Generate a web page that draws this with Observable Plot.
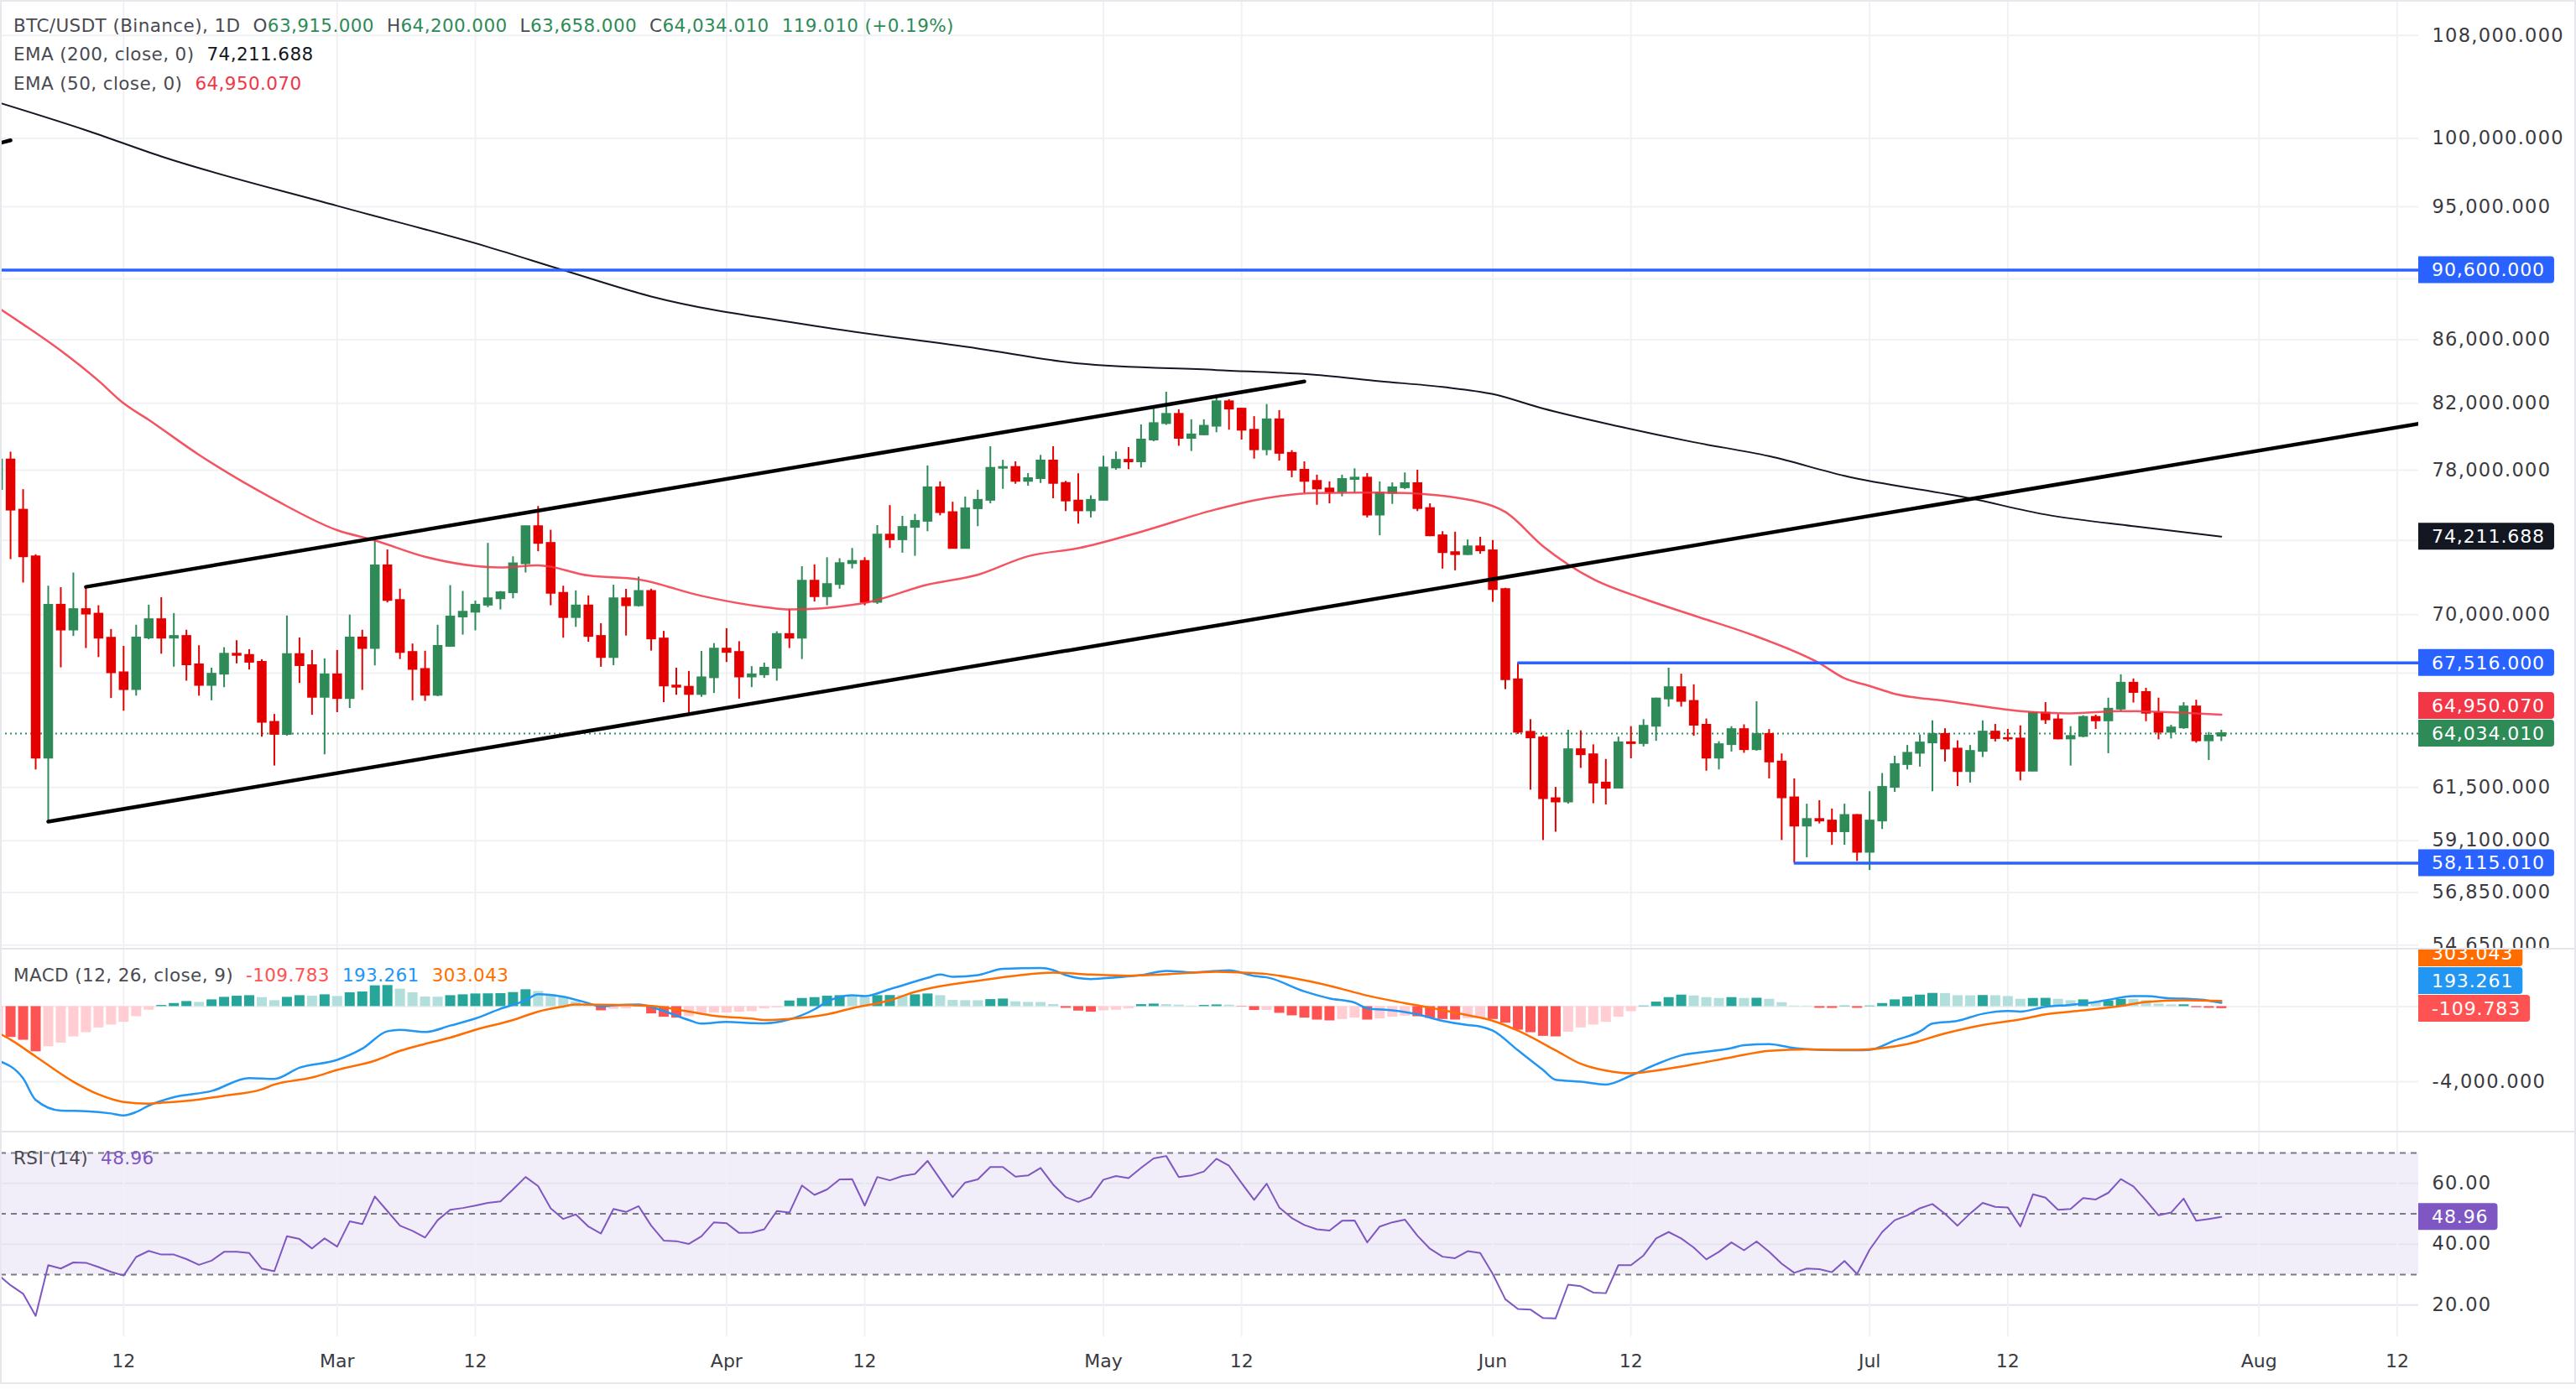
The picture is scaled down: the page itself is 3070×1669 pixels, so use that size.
<!DOCTYPE html>
<html>
<head>
<meta charset="utf-8">
<script src="https://cdn.jsdelivr.net/npm/d3@7"></script>
<script src="https://cdn.jsdelivr.net/npm/@observablehq/plot@0.6"></script>
<style>
  body { margin: 0; background: #fff; }
  #chart { position: relative; width: 3070px; height: 1669px; overflow: hidden; background: #fff;
           font-family: "DejaVu Sans", sans-serif; }
  .lg { position: absolute; left: 16px; height: 34px; line-height: 34px; font-size: 21.5px; color: #4a4a52;
        white-space: pre; letter-spacing: 0.4px; }
  .lg .gap { display: inline-block; width: 15px; }
  .sep { position: absolute; left: 0; width: 3070px; height: 2px; background: #e3e5ec; }
  .frame { position: absolute; left: 0; top: 0; width: 3066px; height: 1646px; border: 2px solid #e6e8ee; pointer-events: none; }
  g[aria-label="y-axis tick label"] text { letter-spacing: 1.3px; }
</style>
</head>
<body>
<div id="chart"></div>
<script>
// ---------- daily candles, BTC/USDT 1D, 2026-02-02 .. 2026-07-29 ----------
const firstCandle = "2026-02-02";
const firstOpen = 76880;
const close = [
  78600,75700,73100,62870,70500,69200,70270,70030,68780,67020,66180,68790,69740,68780,68870,67420,66390,66950,67960,67900,67550,64580,64000,67940,67380,65800,66920,
  65740,68790,68250,72610,70750,68050,67190,65900,68360,69880,70130,70500,70840,71160,72720,74770,73840,71130,69850,70460,68870,67790,70840,70470,71230,68740,66360,66300,65940,66770,68220,
  68050,66810,66920,67250,68970,68780,71780,70950,71600,72730,72850,70650,74300,74040,74730,75070,76980,75560,73560,75780,76260,78110,78160,77350,77510,78540,77230,76220,75660,76260,
  78130,78580,78490,79780,80770,81330,79880,80090,80610,82100,81650,80370,79200,81000,78990,78000,77350,76910,76730,77460,77540,75420,76660,76980,77220,75790,74260,73330,73220,73650,73430,
  71330,66670,64100,63830,60990,60840,63270,63030,61710,61470,63600,63560,64390,65720,66280,65600,64440,62870,63510,64230,63270,64000,62690,61030,59750,60050,59980,59500,60230,58590,
  59980,61510,62570,63100,63590,64000,63300,62240,63190,64110,63800,63780,62260,65020,64700,63780,63900,64820,64650,65220,66500,66040,65020,64100,64310,65330,63690,63915,64034.01
];
const high = [
  79100,79060,76870,73220,71510,71430,72220,71440,70470,69230,68360,69450,70500,70900,70060,69190,68390,67250,68290,68650,68190,67680,64960,69930,68790,68150,67720,
  68150,69980,69190,74070,73480,71350,68480,68110,69450,71540,71230,70720,73840,71230,73100,74800,75910,74570,71510,71260,70990,69530,71560,71340,72000,71350,69130,67250,67090,68100,68500,
  69270,68600,67330,67510,69110,70270,72560,72660,73050,73000,73560,73050,74830,75960,75350,75460,78250,77320,76150,76450,76840,79380,78580,78490,77800,78870,79380,77350,77790,76520,
  78820,79070,79330,80690,81700,82690,81610,81000,81000,82450,82230,81690,81190,81930,81560,79150,78490,77710,77320,77710,78080,77800,77320,77260,77840,78000,76060,74490,74460,74030,74180,
  74000,71400,67516,64710,63930,61510,64200,64170,63500,62810,63870,64370,64710,65760,67250,66950,66420,64740,63650,64370,64460,65580,64230,63070,61900,60740,60900,60520,60740,60270,
  61310,62150,62960,63470,63970,64650,64270,63690,63470,64650,64480,64240,64410,65080,65540,64960,64370,64900,64930,65760,66920,66710,66250,65760,64440,65540,65660,64090,64200
];
const low = [
  75800,72950,71680,62320,59950,67270,68870,68250,67790,65740,65120,65860,68700,67960,67300,66600,65860,65630,66280,67470,67160,63870,62500,63910,66490,64920,63030,
  65050,65250,66140,67370,70620,67690,65630,65600,65830,68330,68940,69160,70370,70250,70840,72220,73380,70470,68780,69340,68570,67300,67380,68890,70400,68120,65540,65900,65020,65800,65990,
  67540,65710,66280,66740,66600,68250,67690,70670,70470,71350,72440,70470,70540,73560,73300,73130,74490,75380,73530,73530,74770,76060,76890,77180,77070,77230,76350,75620,74910,75260,
  76220,78000,78030,78130,79680,80660,79410,79100,80040,80220,80370,79780,78650,78850,78540,77560,76660,75980,76060,76460,76660,75260,74260,76030,76870,75620,74210,72430,72340,73170,73240,
  70650,66180,64000,61380,59110,59480,60740,62390,60760,60710,61440,62840,63400,63670,65320,65320,63910,62260,62320,63160,63100,63200,61900,59110,58115.01,58350,59850,58900,58900,58190,
  57800,59600,61280,62320,62450,61310,62690,61550,61710,62900,63640,63640,61810,62240,64480,63740,62500,63840,64240,63080,65080,65520,64610,63740,63780,64240,63580,62760,63658
];

// ---------- moving averages (date, value) ----------
const ema200 = [
  ["02-02",102730],["02-09",100610],["02-15",98650],["03-01",95070],["03-13",92190],["03-19",90600],
  ["03-26",88830],["04-08",86900],["04-21",85440],["04-29",84490],["05-10",84070],["05-18",83760],
  ["05-23",83370],["05-28",83010],["06-01",82570],["06-05",81680],["06-11",80600],["06-17",79650],
  ["06-23",78820],["06-29",77670],["07-09",76370],["07-15",75450],["07-22",74790],["07-29",74211.688]
];
const ema50 = [
  ["02-02",88100],["02-04",87000],["02-07",85300],["02-10",83400],["02-12",82000],["02-14",80990],
  ["02-18",78900],["02-24",76310],["03-01",74570],["03-04",74000],["03-08",73100],["03-14",72520],
  ["03-17",72630],["03-21",72080],["03-25",71870],["03-30",70990],["04-04",70400],["04-06",70270],
  ["04-12",70620],["04-17",71590],["04-21",72120],["04-25",73130],["04-29",73570],["05-04",74480],
  ["05-10",75745],["05-14",76386],["05-18",76674],["05-23",76700],["05-25",76674],["05-31",76146],
  ["06-02",75590],["06-05",73680],["06-09",71884],["06-13",70840],["06-17",69955],["06-22",68865],
  ["06-27",67500],["06-29",66740],["07-01",66360],["07-03",65968],["07-07",65626],["07-13",65121],
  ["07-17",65010],["07-21",65121],["07-26",65039],["07-29",64950.07]
];

// ---------- MACD (12, 26, close, 9) ----------
const macdHist = [
  -1450,-1642,-1792,-2404,-2135,-1941,-1612,-1388,-1135,-985,-836,-537,-194,60,164,269,224,358,493,552,582,478,314,493,582,552,627,
  537,732,776,1105,1120,926,732,508,500,582,627,672,680,690,747,896,806,627,478,254,105,-224,-149,-119,60,-388,-567,-612,-537,-418,-343,
  -340,-299,-269,-119,-60,299,433,478,552,582,567,478,582,590,585,627,672,582,328,314,310,373,403,254,224,220,105,-90,-239,-299,
  -224,-194,-119,105,134,105,75,30,60,90,75,-20,-209,-200,-358,-493,-612,-717,-761,-687,-612,-717,-657,-567,-508,-540,-627,-687,-717,-642,-597,
  -687,-881,-1254,-1388,-1583,-1612,-1362,-1135,-985,-836,-567,-269,30,239,478,612,567,478,433,478,433,445,388,209,30,25,-90,-95,30,-90,
  30,164,358,508,612,702,695,582,575,590,580,537,388,433,440,388,314,358,209,300,388,380,314,134,90,95,-60,-90,-109.783
];
const macdLine = [
  ["02-02",-2881],["02-04",-3822],["02-05",-4972],["02-07",-5539],["02-09",-5569],["02-11",-5688],["02-12",-5793],
  ["02-13",-5614],["02-14",-5270],["02-16",-4822],["02-19",-4494],["02-22",-3807],["02-24",-3852],["02-26",-3255],
  ["03-01",-2837],["03-03",-2240],["03-05",-1314],["03-06",-1239],["03-08",-1359],["03-10",-1015],["03-12",-642],
  ["03-14",-119],["03-16",328],["03-17",657],["03-19",523],["03-21",179],["03-22",0],["03-23",60],["03-25",105],
  ["03-27",-239],["03-29",-717],["03-30",-911],["04-01",-821],["04-03",-881],["04-04",-896],["04-06",-687],
  ["04-08",-149],["04-09",254],["04-11",597],["04-12",552],["04-14",926],["04-17",1523],["04-18",1702],["04-19",1583],
  ["04-21",1672],["04-23",2001],["04-26",2045],["04-27",1941],["04-28",1672],["04-30",1463],["05-02",1553],
  ["05-04",1672],["05-06",1896],["05-08",1821],["05-10",1896],["05-11",1926],["05-13",1627],["05-14",1553],
  ["05-17",806],["05-19",433],["05-21",209],["05-22",-90],["05-24",-209],["05-26",-418],["05-28",-761],
  ["05-30",-985],["05-31",-1060],["06-01",-1284],["06-03",-2329],["06-05",-3374],["06-06",-3897],["06-08",-4001],
  ["06-10",-4151],["06-12",-3673],["06-14",-3076],["06-16",-2598],["06-18",-2404],["06-20",-2210],["06-21",-2060],
  ["06-23",-2001],["06-25",-2210],["06-27",-2299],["06-30",-2329],["07-01",-2299],["07-03",-1807],["07-05",-1329],
  ["07-06",-911],["07-08",-761],["07-10",-388],["07-12",-239],["07-13",-269],["07-15",-15],["07-17",90],
  ["07-19",239],["07-20",358],["07-22",552],["07-23",552],["07-25",433],["07-26",418],["07-28",314],["07-29",193.261]
];
const macdSignal = [
  ["02-02",-1388],["02-03",-1762],["02-05",-2658],["02-08",-4001],["02-10",-4673],["02-12",-5076],["02-14",-5166],
  ["02-15",-5121],["02-18",-4942],["02-20",-4748],["02-23",-4404],["02-24",-4151],["02-27",-3777],["03-01",-3374],
  ["03-04",-2881],["03-06",-2359],["03-08",-1986],["03-10",-1657],["03-12",-1239],["03-15",-717],["03-17",-269],
  ["03-19",0],["03-20",105],["03-24",75],["03-26",30],["03-29",-269],["03-31",-493],["04-03",-642],["04-04",-717],
  ["04-06",-657],["04-09",-418],["04-11",-90],["04-14",328],["04-16",776],["04-18",1075],["04-21",1374],
  ["04-24",1642],["04-27",1807],["04-30",1702],["05-03",1642],["05-06",1717],["05-10",1851],["05-12",1807],
  ["05-14",1732],["05-16",1523],["05-19",1105],["05-22",582],["05-25",179],["05-27",-60],["05-30",-463],
  ["06-01",-761],["06-03",-1284],["06-06",-2329],["06-08",-3046],["06-10",-3404],["06-12",-3553],["06-14",-3404],
  ["06-17",-3076],["06-20",-2702],["06-23",-2359],["06-26",-2284],["06-28",-2299],["06-30",-2299],["07-02",-2210],
  ["07-04",-2001],["07-07",-1433],["07-10",-985],["07-13",-687],["07-15",-418],["07-18",-209],["07-21",30],
  ["07-23",239],["07-26",328],["07-29",303.043]
];

// ---------- RSI (14) ----------
const rsi = [
  30.0,26.5,23.7,16.4,33.1,32.0,34.0,33.9,32.5,30.9,29.7,35.8,37.8,36.6,36.6,35.1,33.2,34.6,37.5,37.5,37.1,32.0,31.1,42.6,41.7,38.6,41.9,
  39.2,47.5,46.6,55.7,50.9,46.1,44.4,42.2,47.9,51.3,51.9,52.7,53.6,54.1,58.0,62.1,59.1,51.8,48.3,49.8,45.8,43.5,51.6,50.6,52.5,46.1,41.2,41.0,40.1,42.6,47.2,
  46.9,43.7,43.8,44.9,50.9,50.4,59.3,56.2,58.0,61.3,61.4,52.7,62.1,61.0,62.4,63.1,67.4,61.4,55.5,60.3,61.3,65.4,65.4,62.2,62.6,65.1,59.6,55.5,53.9,55.5,
  61.2,62.4,61.7,65.1,68.2,69.0,62.1,62.6,63.9,68.1,65.8,60.1,54.6,59.9,52.1,48.6,46.3,44.9,44.5,47.7,47.8,40.6,45.8,47.2,48.1,42.8,38.5,35.9,35.4,37.7,37.1,
  30.2,21.9,18.7,18.5,15.7,15.6,26.7,26.2,24.1,23.9,33.1,33.1,36.3,41.9,44.0,41.9,38.9,35.0,37.5,40.6,38.0,40.9,37.5,33.6,30.6,32.0,31.8,30.8,34.5,30.2,
  38.2,44.0,47.9,49.5,51.8,53.2,50.0,46.1,50.1,53.6,52.3,52.1,45.8,56.4,55.3,51.3,51.6,55.2,54.7,56.9,61.4,59.0,54.4,49.5,50.4,55.0,47.7,48.3,48.96
];

// ---------- drawings: levels and trend lines ----------
const levels = [
  { price: 90600, from: null },
  { price: 67516, from: "06-03" },
  { price: 58115.01, from: "06-25" }
];
const trendLines = [
  { name: "channel top",  points: [["02-09", 71470], ["05-17", 83350]] },
  { name: "channel base", points: [["02-06", 59950], ["08-14", 80790]] },
  { name: "upper stub",   points: [["02-01", 99370], ["02-03", 99850]] }
];

// ---------- axes ----------
const dateTicks = ["02-12","03-01","03-12","04-01","04-12","05-01","05-12","06-01","06-12","07-01","07-12","08-01","08-12"];
const priceTicks = [108000,100000,95000,86000,82000,78000,70000,61500,59100,56850,54650];
const priceGrid = [108000,100000,95000,90000,86000,82000,78000,74000,70000,67000,61500,59100,56850,54650];
const macdTicks = [-4000];
const macdGrid = [0,-4000];
const rsiTicks = [60,40,20];
const rsiBands = [70,50,30];

// ---------- helpers ----------
const DAY = 864e5;
const day = s => new Date(Date.UTC(2026, +s.slice(0, 2) - 1, +s.slice(3)));
const t0 = Date.parse(firstCandle);
const xDomain = [new Date(Date.UTC(2026, 1, 2, 4, 38)), new Date(Date.UTC(2026, 7, 13, 17, 2))];

const UP = "#2e8b57", DOWN = "#e50000";
const candles = close.map((c, i) => {
  const open = i ? close[i - 1] : firstOpen;
  return { date: new Date(t0 + i * DAY), open, close: c, high: high[i], low: low[i],
           top: Math.max(open, c), bottom: Math.min(open, c), color: c >= open ? UP : DOWN };
});
const series = arr => arr.map(([d, v]) => ({ date: day(d), v }));
const hist = macdHist.map((v, i) => {
  const prev = i ? macdHist[i - 1] : v;
  const color = v >= 0 ? (v > prev ? "#26a69a" : "#b2dfdb") : (v < prev ? "#ff5252" : "#ffcdd2");
  return { date: new Date(t0 + i * DAY), v, color };
});
const rsiData = rsi.map((v, i) => ({ date: new Date(t0 + i * DAY), v }));
const ticks = dateTicks.map(day);
const tickLabel = d => d.getUTCDate() === 1 ? d3.utcFormat("%b")(d) : String(d.getUTCDate());
const locale = d3.formatLocale({ decimal: ".", thousands: ",", grouping: [3], currency: ["$", ""], minus: "-" });
const fmt3 = locale.format(",.3f"), fmt2 = locale.format(".2f");

const W = 3070, AXIS_W = 188;
const GRID = "#f0f1f4";
const AXIS_FONT = 22.5;
const baseStyle = { fontFamily: "DejaVu Sans, sans-serif", fontSize: "22px", color: "#3a3a40", background: "transparent" };
const container = document.getElementById("chart");
function place(svg, top) {
  svg.style.position = "absolute"; svg.style.left = "0px"; svg.style.top = top + "px";
  container.appendChild(svg);
  return svg;
}
const yAxis = (values, format) =>
  Plot.axisY(values, { anchor: "right", tickSize: 0, tickPadding: 16, tickFormat: format, fontSize: AXIS_FONT, label: null });

// ---------- price pane ----------
const last = candles[candles.length - 1];
const mainPlot = place(Plot.plot({
  width: W, height: 1131, marginLeft: 0, marginRight: AXIS_W, marginTop: 0, marginBottom: 0,
  style: baseStyle,
  x: { type: "utc", domain: xDomain, axis: null },
  y: { type: "log", domain: [54490, 110877], label: null },
  color: { type: "identity" },
  marks: [
    Plot.ruleY(priceGrid, { stroke: GRID, strokeWidth: 2 }),
    Plot.ruleX(ticks, { stroke: GRID, strokeWidth: 2 }),
    Plot.ruleY([last.close], { stroke: UP, strokeWidth: 2, strokeDasharray: "2,4" }),
    Plot.ruleX(candles, { x: "date", y1: "low", y2: "high", stroke: "color", strokeWidth: 2 }),
    Plot.ruleX(candles, { x: "date", y1: "top", y2: "bottom", stroke: "color", strokeWidth: 11.5,
                          insetTop: -1, insetBottom: -1 }),
    Plot.line(series(ema200), { x: "date", y: "v", stroke: "#131722", strokeWidth: 2, curve: "monotone-x" }),
    Plot.line(series(ema50), { x: "date", y: "v", stroke: "#f23645", strokeOpacity: 0.85, strokeWidth: 2.5, curve: "monotone-x" }),
    Plot.ruleY(levels, { y: "price", x1: d => d.from ? day(d.from) : xDomain[0], x2: xDomain[1],
                         stroke: "#2962ff", strokeWidth: 3.5 }),
    Plot.line(trendLines.flatMap(t => t.points.map(([d, p]) => ({ name: t.name, date: day(d), p }))),
              { x: "date", y: "p", z: "name", stroke: "#000", strokeWidth: 4.5, strokeLinecap: "round", clip: true }),
    yAxis(priceTicks, fmt3)
  ]
}), 0);

// ---------- MACD pane ----------
const macdPlot = place(Plot.plot({
  width: W, height: 218, marginLeft: 0, marginRight: AXIS_W, marginTop: 0, marginBottom: 0,
  style: baseStyle,
  x: { type: "utc", domain: xDomain, axis: null },
  y: { domain: [-6676, 3054], label: null },
  color: { type: "identity" },
  marks: [
    Plot.ruleY(macdGrid, { stroke: GRID, strokeWidth: 2 }),
    Plot.ruleX(ticks, { stroke: GRID, strokeWidth: 2 }),
    Plot.ruleX(hist, { x: "date", y1: 0, y2: "v", stroke: "color", strokeWidth: 12 }),
    Plot.line(series(macdLine), { x: "date", y: "v", stroke: "#2196f3", strokeWidth: 2.5, curve: "monotone-x" }),
    Plot.line(series(macdSignal), { x: "date", y: "v", stroke: "#ff6d00", strokeWidth: 2.5, curve: "monotone-x" }),
    yAxis(macdTicks, fmt3)
  ]
}), 1131);

// ---------- RSI pane with the date axis ----------
const rsiPlot = place(Plot.plot({
  width: W, height: 320, marginLeft: 0, marginRight: AXIS_W, marginTop: 0, marginBottom: 76,
  style: baseStyle,
  x: { type: "utc", domain: xDomain, label: null },
  y: { domain: [9.59, 76.9], label: null },
  marks: [
    Plot.rect([0], { y1: 30, y2: 70, fill: "#7e57c2", fillOpacity: 0.1 }),
    Plot.ruleY(rsiTicks, { stroke: "#e6e3ee", strokeWidth: 2 }),
    Plot.ruleX(ticks, { stroke: GRID, strokeWidth: 2 }),
    Plot.ruleY(rsiBands, { stroke: "#787b86", strokeWidth: 2, strokeDasharray: "7,6" }),
    Plot.line(rsiData, { x: "date", y: "v", stroke: "#7e57c2", strokeWidth: 2 }),
    yAxis(rsiTicks, fmt2),
    Plot.axisX(ticks, { anchor: "bottom", tickSize: 0, tickPadding: 21, tickFormat: tickLabel, fontSize: 22, label: null })
  ]
}), 1349);

// ---------- value tags on the price scale ----------
function addTags(svg, tags, h) {
  const y = svg.scale("y");
  const x0 = W - AXIS_W, padL = 16, padR = 11, r = 4;
  const items = tags.map(t => ({ ...t, cy: y.apply(t.value) })).sort((a, b) => b.cy - a.cy);
  let prev = Infinity;
  for (const it of items) { it.cy = Math.min(it.cy, prev - h - 1); prev = it.cy; }
  const g = d3.select(svg).append("g").attr("font-size", 22).attr("letter-spacing", "0.9px")
    .attr("text-anchor", "start");
  for (const it of items) {
    const text = g.append("text").attr("x", x0 + padL).attr("y", it.cy).attr("dy", "0.36em")
      .attr("fill", "#fff").text(it.label);
    const w = text.node().getComputedTextLength() + padL + padR;
    const y0 = it.cy - h / 2, y1 = it.cy + h / 2, x1 = x0 + w;
    g.insert("path", () => text.node()).attr("fill", it.fill)
      .attr("d", `M${x0},${y0}H${x1 - r}A${r},${r} 0 0 1 ${x1},${y0 + r}V${y1 - r}A${r},${r} 0 0 1 ${x1 - r},${y1}H${x0}Z`);
  }
}
const lastEma200 = ema200[ema200.length - 1][1], lastEma50 = ema50[ema50.length - 1][1];
const lastHist = macdHist[macdHist.length - 1];
const lastMacd = macdLine[macdLine.length - 1][1], lastSignal = macdSignal[macdSignal.length - 1][1];
const lastRsi = rsi[rsi.length - 1];
addTags(mainPlot, [
  { value: levels[0].price, label: fmt3(levels[0].price), fill: "#2962ff" },
  { value: lastEma200, label: fmt3(lastEma200), fill: "#131722" },
  { value: levels[1].price, label: fmt3(levels[1].price), fill: "#2962ff" },
  { value: lastEma50, label: fmt3(lastEma50), fill: "#f23645" },
  { value: last.close, label: fmt3(last.close), fill: "#2e8b57" },
  { value: levels[2].price, label: fmt3(levels[2].price), fill: "#2962ff" }
], 32);
addTags(macdPlot, [
  { value: lastHist, label: fmt3(lastHist), fill: "#ff5252" },
  { value: lastMacd, label: fmt3(lastMacd), fill: "#2196f3" },
  { value: lastSignal, label: fmt3(lastSignal), fill: "#ff6d00" }
], 32);
addTags(rsiPlot, [{ value: lastRsi, label: fmt2(lastRsi), fill: "#7e57c2" }], 32);

// ---------- pane separators and outer frame ----------
for (const top of [1130, 1348]) {
  const s = document.createElement("div"); s.className = "sep"; s.style.top = top + "px"; container.appendChild(s);
}
const frame = document.createElement("div"); frame.className = "frame"; container.appendChild(frame);

// ---------- legends ----------
function legend(top, parts) {
  const div = document.createElement("div");
  div.className = "lg"; div.style.top = (top - 17) + "px";
  div.innerHTML = parts.map(([t, c]) => t === " " ? `<span class="gap"></span>`
    : `<span style="color:${c || "inherit"}">${t}</span>`).join("");
  container.appendChild(div);
}
const chg = last.close - last.open, pct = chg / last.open * 100;
legend(31, [["BTC/USDT (Binance), 1D"], [" "], ["O"], [fmt3(last.open), UP], [" "], ["H"], [fmt3(last.high), UP],
            [" "], ["L"], [fmt3(last.low), UP], [" "], ["C"], [fmt3(last.close), UP], [" "],
            [`${fmt3(chg)} (${chg >= 0 ? "+" : ""}${pct.toFixed(2)}%)`, UP]]);
legend(65, [["EMA (200, close, 0)"], [" "], [fmt3(lastEma200), "#131722"]]);
legend(100, [["EMA (50, close, 0)"], [" "], [fmt3(lastEma50), "#f23645"]]);
legend(1163, [["MACD (12, 26, close, 9)"], [" "], [fmt3(lastHist), "#ff5252"], [" "], [fmt3(lastMacd), "#2196f3"],
              [" "], [fmt3(lastSignal), "#ff6d00"]]);
legend(1381, [["RSI (14)"], [" "], [fmt2(lastRsi), "#7e57c2"]]);
</script>
</body>
</html>
